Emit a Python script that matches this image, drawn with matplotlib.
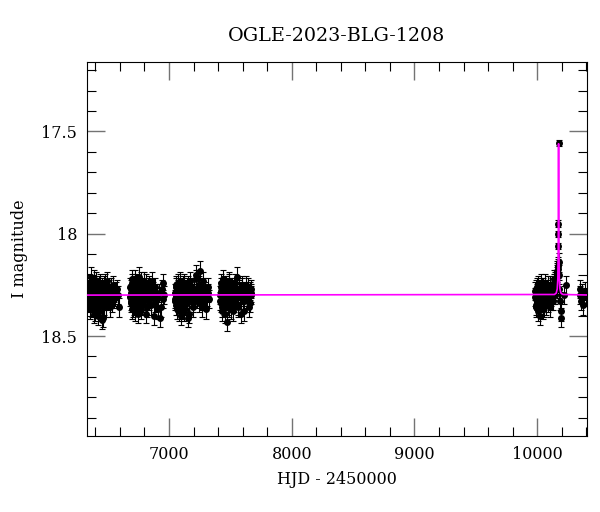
import numpy as np
import matplotlib
matplotlib.use('Agg')
import matplotlib.pyplot as plt
from matplotlib.ticker import MultipleLocator, FormatStrFormatter

# -------------------------------
# data
# -------------------------------
t_s1 = [6341, 6346, 6350, 6353, 6358, 6362, 6366, 6371, 6375, 6379,
        6384, 6388, 6392, 6397, 6401, 6405, 6410, 6414, 6419, 6423,
        6428, 6432, 6437, 6441, 6446, 6451, 6455, 6460, 6466, 6471,
        6477, 6483, 6490, 6497, 6505, 6514, 6524, 6536, 6549, 6563,
        6578, 6592,
        6344, 6348, 6352, 6356, 6360, 6364, 6368, 6373, 6377, 6382,
        6386, 6390, 6395, 6399, 6403, 6408, 6412, 6417, 6421, 6426,
        6430, 6435, 6439, 6444, 6449, 6453, 6458, 6463, 6469, 6474,
        6480, 6487, 6494, 6501, 6510, 6519, 6530, 6542, 6556, 6570,
        6585]
m_s1 = [18.28, 18.31, 18.26, 18.34, 18.29, 18.32, 18.25, 18.30, 18.36, 18.27,
        18.33, 18.29, 18.22, 18.31, 18.38, 18.27, 18.30, 18.34, 18.26, 18.40,
        18.29, 18.32, 18.24, 18.35, 18.30, 18.27, 18.33, 18.41, 18.29, 18.25,
        18.31, 18.36, 18.28, 18.23, 18.32, 18.30, 18.26, 18.34, 18.29, 18.31,
        18.27, 18.36,
        18.33, 18.24, 18.30, 18.27, 18.37, 18.21, 18.32, 18.28, 18.25, 18.35,
        18.30, 18.39, 18.26, 18.33, 18.29, 18.23, 18.36, 18.28, 18.31, 18.25,
        18.34, 18.38, 18.29, 18.27, 18.32, 18.42, 18.26, 18.30, 18.35, 18.28,
        18.24, 18.31, 18.33, 18.29, 18.27, 18.36, 18.30, 18.25, 18.32, 18.28,
        18.30]

t_s2 = [6682, 6687, 6691, 6695, 6700, 6704, 6709, 6713, 6718, 6722,
        6727, 6731, 6736, 6740, 6745, 6750, 6754, 6759, 6764, 6769,
        6774, 6780, 6786, 6792, 6798, 6805, 6812, 6820, 6828, 6836,
        6845, 6855, 6866, 6878, 6890, 6903, 6917, 6932, 6948, 6962,
        6684, 6689, 6693, 6698, 6702, 6707, 6711, 6716, 6720, 6725,
        6729, 6734, 6738, 6743, 6748, 6752, 6757, 6762, 6767, 6772,
        6777, 6783, 6789, 6795, 6802, 6809, 6816, 6824, 6832, 6841,
        6850, 6860, 6872, 6884, 6897, 6910, 6925, 6940, 6955]
m_s2 = [18.31, 18.27, 18.34, 18.22, 18.30, 18.36, 18.28, 18.25, 18.33, 18.29,
        18.38, 18.24, 18.31, 18.27, 18.35, 18.30, 18.21, 18.33, 18.28, 18.37,
        18.26, 18.31, 18.29, 18.34, 18.23, 18.30, 18.39, 18.27, 18.32, 18.25,
        18.30, 18.35, 18.28, 18.40, 18.26, 18.31, 18.29, 18.36, 18.24, 18.30,
        18.26, 18.33, 18.29, 18.37, 18.24, 18.31, 18.35, 18.28, 18.22, 18.32,
        18.27, 18.34, 18.30, 18.25, 18.39, 18.29, 18.32, 18.26, 18.30, 18.23,
        18.35, 18.28, 18.33, 18.27, 18.31, 18.24, 18.29, 18.36, 18.26, 18.33,
        18.28, 18.23, 18.31, 18.34, 18.29, 18.37, 18.41, 18.27, 18.32]

t_s3 = [7047, 7052, 7056, 7061, 7065, 7070, 7074, 7079, 7083, 7088,
        7093, 7097, 7102, 7107, 7112, 7117, 7122, 7128, 7134, 7140,
        7146, 7153, 7160, 7167, 7175, 7183, 7192, 7201, 7211, 7221,
        7231, 7241, 7251, 7261, 7271, 7281, 7292, 7303, 7315, 7327,
        7049, 7054, 7058, 7063, 7068, 7072, 7077, 7081, 7086, 7090,
        7095, 7100, 7105, 7110, 7115, 7120, 7125, 7131, 7137, 7143,
        7150, 7156, 7163, 7171, 7179, 7188, 7196, 7206, 7216, 7226,
        7236, 7246, 7256, 7266, 7276, 7286, 7297, 7309, 7321]
m_s3 = [18.29, 18.33, 18.26, 18.31, 18.37, 18.28, 18.24, 18.32, 18.30, 18.35,
        18.27, 18.40, 18.29, 18.33, 18.25, 18.31, 18.38, 18.28, 18.30, 18.34,
        18.26, 18.41, 18.29, 18.32, 18.23, 18.30, 18.36, 18.27, 18.31, 18.20,
        18.29, 18.34, 18.18, 18.28, 18.33, 18.26, 18.31, 18.37, 18.29, 18.32,
        18.32, 18.25, 18.35, 18.28, 18.30, 18.34, 18.27, 18.38, 18.23, 18.31,
        18.29, 18.33, 18.26, 18.37, 18.30, 18.24, 18.32, 18.35, 18.27, 18.29,
        18.33, 18.25, 18.39, 18.28, 18.31, 18.26, 18.34, 18.29, 18.22, 18.32,
        18.27, 18.25, 18.30, 18.36, 18.23, 18.33, 18.28, 18.31, 18.26]

t_s4 = [7417, 7421, 7425, 7430, 7434, 7438, 7443, 7447, 7452, 7456,
        7461, 7465, 7470, 7475, 7480, 7485, 7490, 7496, 7502, 7508,
        7514, 7521, 7528, 7535, 7543, 7551, 7560, 7569, 7578, 7588,
        7598, 7608, 7618, 7628, 7638, 7648, 7657, 7665, 7672,
        7419, 7423, 7427, 7432, 7436, 7441, 7445, 7450, 7454, 7459,
        7463, 7468, 7472, 7477, 7482, 7488, 7493, 7499, 7505, 7511,
        7518, 7525, 7532, 7539, 7547, 7556, 7565, 7574, 7583, 7593,
        7603, 7613, 7623, 7633, 7643, 7653, 7661, 7669]
m_s4 = [18.30, 18.26, 18.34, 18.29, 18.38, 18.22, 18.31, 18.27, 18.35, 18.30,
        18.25, 18.33, 18.43, 18.28, 18.31, 18.36, 18.24, 18.30, 18.27, 18.34,
        18.29, 18.38, 18.26, 18.32, 18.30, 18.21, 18.35, 18.28, 18.31, 18.39,
        18.26, 18.33, 18.29, 18.25, 18.32, 18.36, 18.28, 18.30, 18.27,
        18.33, 18.28, 18.24, 18.36, 18.30, 18.27, 18.34, 18.25, 18.31, 18.39,
        18.28, 18.32, 18.26, 18.35, 18.29, 18.23, 18.33, 18.30, 18.37, 18.26,
        18.31, 18.28, 18.34, 18.24, 18.32, 18.29, 18.36, 18.27, 18.30, 18.25,
        18.33, 18.38, 18.28, 18.31, 18.26, 18.30, 18.34, 18.29]

t_s5 = [9982, 9987, 9991, 9995, 10000, 10004, 10009, 10013, 10018, 10022,
        10027, 10031, 10036, 10041, 10046, 10051, 10056, 10062, 10068, 10074,
        10080, 10087, 10094, 10101, 10108, 10115, 10122, 10129, 10136, 10142,
        10148, 10153, 10158, 10162, 10166,
        9984, 9989, 9993, 9998, 10002, 10007, 10011, 10016, 10020, 10025,
        10029, 10034, 10039, 10044, 10049, 10054, 10059, 10065, 10071, 10077,
        10084, 10091, 10098, 10105, 10112, 10119, 10126, 10133, 10139, 10145,
        10150, 10156, 10160, 10164,
        10169, 10171, 10172, 10173, 10174, 10175, 10177, 10180, 10184, 10190,
        10197, 10222, 10232]
m_s5 = [18.31, 18.35, 18.27, 18.33, 18.29, 18.38, 18.25, 18.32, 18.30, 18.36,
        18.28, 18.34, 18.26, 18.31, 18.37, 18.29, 18.33, 18.24, 18.30, 18.35,
        18.27, 18.32, 18.29, 18.36, 18.25, 18.31, 18.28, 18.33, 18.22, 18.30,
        18.26, 18.24, 18.21, 18.19, 18.17,
        18.28, 18.32, 18.36, 18.26, 18.33, 18.29, 18.35, 18.27, 18.40, 18.30,
        18.24, 18.31, 18.34, 18.28, 18.26, 18.36, 18.30, 18.32, 18.27, 18.29,
        18.34, 18.25, 18.31, 18.28, 18.33, 18.26, 18.30, 18.24, 18.28, 18.23,
        18.22, 18.25, 18.20, 18.18,
        18.16, 18.06, 18.00, 17.95, 17.555, 18.14, 18.20, 18.27, 18.33, 18.38,
        18.41, 18.30, 18.25]

t_s6 = [10345, 10352, 10360, 10368, 10377, 10386, 10395]
m_s6 = [18.30, 18.27, 18.33, 18.29, 18.35, 18.28, 18.31]

err_base = 0.045
err_peak = 0.015

# model curve (magenta)
t_model = [6300, 10140, 10155, 10163, 10168, 10171, 10173, 10174,
           10175, 10177, 10180, 10185, 10193, 10210, 10450]
m_model = [18.30, 18.297, 18.29, 18.27, 18.22, 18.08, 17.82, 17.56,
           17.82, 18.08, 18.22, 18.27, 18.29, 18.297, 18.30]

# -------------------------------
# plot
# -------------------------------
plt.rcParams['font.family'] = 'DejaVu Serif'
plt.rcParams['font.size'] = 11.5

fig = plt.figure(figsize=(6, 5.12), dpi=100)
ax = fig.add_axes([0.145, 0.148, 0.833, 0.731])

t_all = t_s1 + t_s2 + t_s3 + t_s4 + t_s5 + t_s6
m_all = m_s1 + m_s2 + m_s3 + m_s4 + m_s5 + m_s6
e_all = [err_base if m > 18.1 else err_peak for m in m_all]

ax.errorbar(t_all, m_all, yerr=e_all, fmt='o', ms=4, color='black',
            ecolor='black', elinewidth=0.8, capsize=2.5, capthick=0.8, zorder=2)
ax.plot(t_model, m_model, color='#ff00ff', lw=1.2, zorder=3)

ax.set_xlim(6332, 10404)
ax.set_ylim(18.99, 17.16)

ax.xaxis.set_major_locator(MultipleLocator(1000))
ax.xaxis.set_minor_locator(MultipleLocator(200))
ax.yaxis.set_major_locator(MultipleLocator(0.5))
ax.yaxis.set_minor_locator(MultipleLocator(0.1))
ax.yaxis.set_major_formatter(FormatStrFormatter('%g'))

ax.tick_params(which='both', direction='in', top=True, right=True)
ax.tick_params(which='major', length=13, width=1, color='0.45', pad=7)
ax.tick_params(which='minor', length=6.5, width=0.8, color='black')

ax.set_xlabel('HJD - 2450000', labelpad=6)
ax.set_ylabel('I magnitude', labelpad=10)
ax.set_title('OGLE-2023-BLG-1208', pad=15)

plt.savefig('out.png', dpi=100)
